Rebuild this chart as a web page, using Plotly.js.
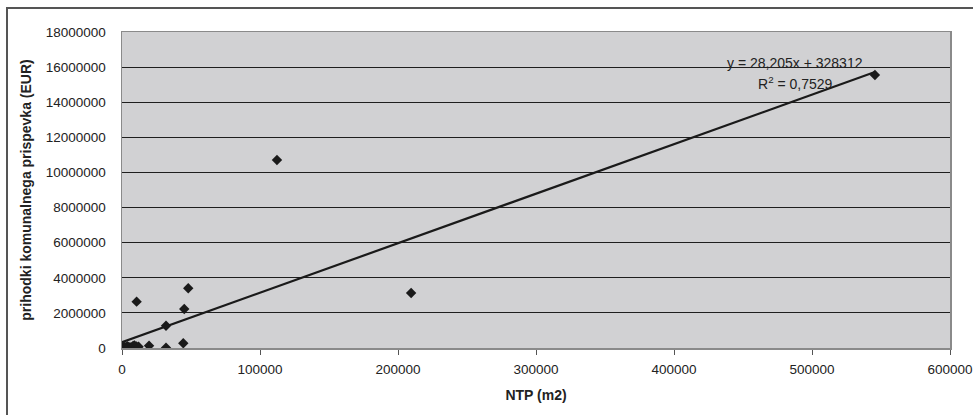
<!DOCTYPE html>
<html>
<head>
<meta charset="utf-8">
<script src="https://cdn.plot.ly/plotly-3.0.1.min.js"></script>
<style>
html,body{margin:0;padding:0;background:#fff;}
#chart{width:973px;height:415px;}
</style>
</head>
<body>
<div id="chart"></div>
<script>
// NTP (m2) per project
const ntp = [500, 1500, 2500, 3800, 5000, 6500, 8000, 9000, 10500, 12000,
             10600, 48000, 45100, 31900, 44400, 31900, 19600,
             112300, 209500, 545600];
// prihodki komunalnega prispevka (EUR)
const prihodki = [50000, 80000, 30000, 100000, 60000, 40000, 120000, 150000, 90000, 70000,
                  2640000, 3400000, 2220000, 1270000, 270000, 20000, 130000,
                  10710000, 3130000, 15550000];
// linear trend endpoints (y = 28,205x + 328312)
const trendX = [0, 545600];
const trendY = [328312, 15717000];
const xTicks = [0, 100000, 200000, 300000, 400000, 500000, 600000];
const yTicks = [0, 2000000, 4000000, 6000000, 8000000, 10000000, 12000000, 14000000, 16000000, 18000000];
const eqText = 'y = 28,205x + 328312';
const r2Text = 'R<sup>2</sup> = 0,7529';

const font = 'Liberation Sans, Arial, sans-serif';

const traces = [
  {
    x: trendX, y: trendY, mode: 'lines', type: 'scatter',
    line: {color: '#1a1a1a', width: 2.2}, hoverinfo: 'skip', showlegend: false
  },
  {
    x: ntp, y: prihodki, mode: 'markers', type: 'scatter',
    marker: {symbol: 'diamond', size: 8, color: '#1a1a1a'}, showlegend: false
  }
];

const layout = {
  width: 973, height: 415,
  margin: {l: 122, r: 23, t: 32, b: 67, pad: 0},
  paper_bgcolor: '#ffffff',
  plot_bgcolor: '#d1d1d3',
  font: {family: font, size: 13, color: '#222'},
  showlegend: false,
  xaxis: {
    range: [0, 600000], tickvals: xTicks, ticktext: xTicks.map(String),
    showgrid: false, zeroline: false,
    showline: true, mirror: true, linecolor: '#8a8a8a', linewidth: 1.5,
    ticks: 'outside', ticklen: 5, tickcolor: '#555', tickwidth: 1,
    ticklabelstandoff: 3,
    tickfont: {family: font, size: 13.5, color: '#222'},
    title: {text: '<b>NTP (m2)</b>', font: {family: font, size: 14, color: '#222'}, standoff: 14}
  },
  yaxis: {
    range: [0, 18000000], tickvals: yTicks, ticktext: yTicks.map(String),
    showgrid: true, gridcolor: '#1e1e1e', gridwidth: 1.2, zeroline: false,
    showline: true, mirror: true, linecolor: '#8a8a8a', linewidth: 1.5,
    ticks: '', ticklabelstandoff: 12,
    tickfont: {family: font, size: 13.5, color: '#222'},
    title: {text: '<b>prihodki komunalnega prispevka (EUR)</b>', font: {family: font, size: 14, color: '#222'}, standoff: 11}
  },
  annotations: [
    {x: 487700, y: 16240000, xref: 'x', yref: 'y', text: eqText, showarrow: false,
     font: {family: font, size: 14, color: '#222'}, xanchor: 'center', yanchor: 'middle'},
    {x: 487700, y: 15100000, xref: 'x', yref: 'y', text: r2Text, showarrow: false,
     font: {family: font, size: 14, color: '#222'}, xanchor: 'center', yanchor: 'middle'}
  ],
  shapes: [
    {type: 'rect', xref: 'paper', yref: 'paper',
     x0: (7 - 122) / 828, x1: 1.05, y0: -0.25, y1: (348 - 8) / 316,
     line: {color: '#555', width: 2}, fillcolor: 'rgba(0,0,0,0)', layer: 'below'}
  ]
};

Plotly.newPlot('chart', traces, layout, {displayModeBar: false, staticPlot: true});
</script>
</body>
</html>
